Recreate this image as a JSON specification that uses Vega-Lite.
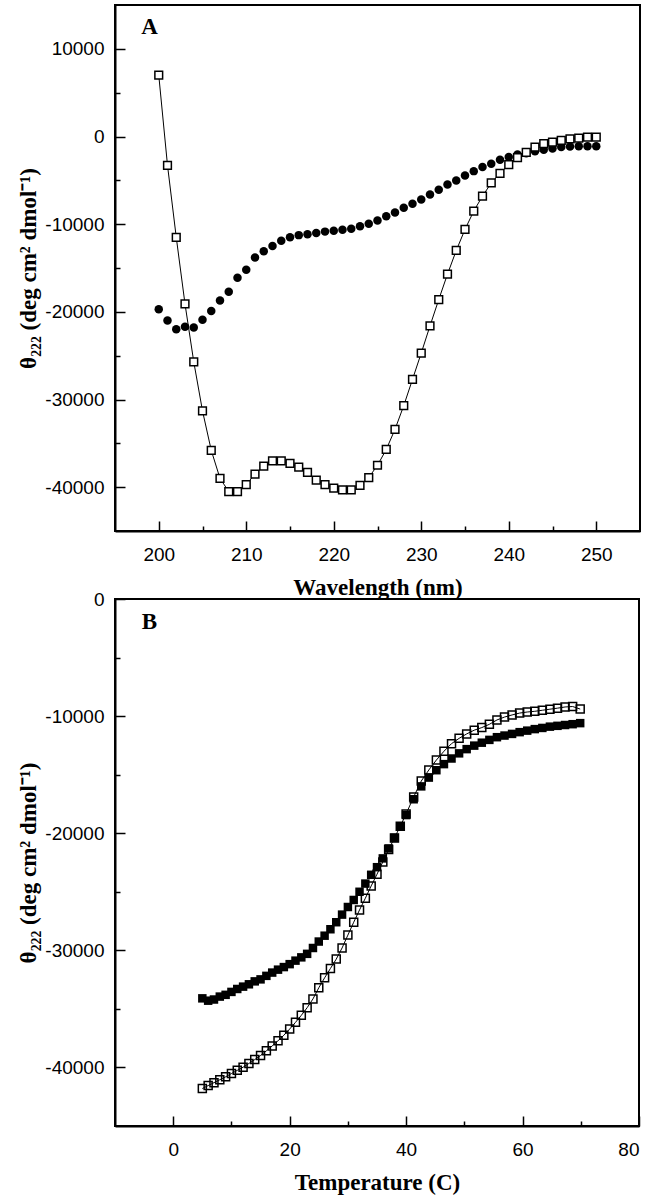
{
  "$schema": "https://vega.github.io/schema/vega-lite/v6.json",
  "background": "white",
  "padding": {"left": 16, "top": 4, "right": 8, "bottom": 3},
  "bounds": "flush",
  "spacing": 68,
  "config": {
    "view": {"stroke": "black", "strokeWidth": 2},
    "axis": {
      "grid": false,
      "domainColor": "black",
      "domainWidth": 2,
      "tickColor": "black",
      "tickWidth": 1.5,
      "labelFont": "Liberation Sans",
      "labelFontSize": 19,
      "labelColor": "black",
      "titleFont": "Liberation Serif",
      "titleFontWeight": "bold",
      "titleFontSize": 23,
      "titleColor": "black"
    },
    "axisX": {"labelPadding": 24, "titlePadding": 12},
    "axisY": {"labelPadding": 21, "titlePadding": 4}
  },
  "datasets": {
    "a_open": [
      {"wl": 200, "theta": 7000}, {"wl": 201, "theta": -3300}, {"wl": 202, "theta": -11500}, {"wl": 203, "theta": -19100},
      {"wl": 204, "theta": -25700}, {"wl": 205, "theta": -31300}, {"wl": 206, "theta": -35800}, {"wl": 207, "theta": -39000},
      {"wl": 208, "theta": -40500}, {"wl": 209, "theta": -40500}, {"wl": 210, "theta": -39700}, {"wl": 211, "theta": -38500},
      {"wl": 212, "theta": -37600}, {"wl": 213, "theta": -37000}, {"wl": 214, "theta": -37000}, {"wl": 215, "theta": -37300},
      {"wl": 216, "theta": -37700}, {"wl": 217, "theta": -38300}, {"wl": 218, "theta": -39200}, {"wl": 219, "theta": -39700},
      {"wl": 220, "theta": -40100}, {"wl": 221, "theta": -40300}, {"wl": 222, "theta": -40300}, {"wl": 223, "theta": -39800},
      {"wl": 224, "theta": -38900}, {"wl": 225, "theta": -37500}, {"wl": 226, "theta": -35700}, {"wl": 227, "theta": -33400},
      {"wl": 228, "theta": -30700}, {"wl": 229, "theta": -27700}, {"wl": 230, "theta": -24700}, {"wl": 231, "theta": -21600},
      {"wl": 232, "theta": -18600}, {"wl": 233, "theta": -15700}, {"wl": 234, "theta": -13000}, {"wl": 235, "theta": -10600},
      {"wl": 236, "theta": -8500}, {"wl": 237, "theta": -6800}, {"wl": 238, "theta": -5300}, {"wl": 239, "theta": -4200},
      {"wl": 240, "theta": -3200}, {"wl": 241, "theta": -2400}, {"wl": 242, "theta": -1800}, {"wl": 243, "theta": -1200},
      {"wl": 244, "theta": -800}, {"wl": 245, "theta": -650}, {"wl": 246, "theta": -450}, {"wl": 247, "theta": -260},
      {"wl": 248, "theta": -190}, {"wl": 249, "theta": -80}, {"wl": 250, "theta": -80}
    ],
    "a_filled": [
      {"wl": 200, "theta": -19700}, {"wl": 201, "theta": -21000}, {"wl": 202, "theta": -22000}, {"wl": 203, "theta": -21700},
      {"wl": 204, "theta": -21800}, {"wl": 205, "theta": -20900}, {"wl": 206, "theta": -19900}, {"wl": 207, "theta": -18700},
      {"wl": 208, "theta": -17700}, {"wl": 209, "theta": -16100}, {"wl": 210, "theta": -15200}, {"wl": 211, "theta": -13800},
      {"wl": 212, "theta": -13100}, {"wl": 213, "theta": -12500}, {"wl": 214, "theta": -11900}, {"wl": 215, "theta": -11500},
      {"wl": 216, "theta": -11250}, {"wl": 217, "theta": -11150}, {"wl": 218, "theta": -11000}, {"wl": 219, "theta": -10850},
      {"wl": 220, "theta": -10750}, {"wl": 221, "theta": -10650}, {"wl": 222, "theta": -10520}, {"wl": 223, "theta": -10250},
      {"wl": 224, "theta": -9950}, {"wl": 225, "theta": -9570}, {"wl": 226, "theta": -9110}, {"wl": 227, "theta": -8660},
      {"wl": 228, "theta": -8120}, {"wl": 229, "theta": -7670}, {"wl": 230, "theta": -7180}, {"wl": 231, "theta": -6610},
      {"wl": 232, "theta": -6070}, {"wl": 233, "theta": -5470}, {"wl": 234, "theta": -5010}, {"wl": 235, "theta": -4440},
      {"wl": 236, "theta": -3950}, {"wl": 237, "theta": -3490}, {"wl": 238, "theta": -3110}, {"wl": 239, "theta": -2660},
      {"wl": 240, "theta": -2350}, {"wl": 241, "theta": -2050}, {"wl": 242, "theta": -1900}, {"wl": 243, "theta": -1670},
      {"wl": 244, "theta": -1520}, {"wl": 245, "theta": -1370}, {"wl": 246, "theta": -1210}, {"wl": 247, "theta": -1140},
      {"wl": 248, "theta": -1100}, {"wl": 249, "theta": -1100}, {"wl": 250, "theta": -1100}
    ],
    "b_open": [
      {"t": 5, "theta": -41800}, {"t": 6, "theta": -41550}, {"t": 7, "theta": -41300}, {"t": 8, "theta": -41050},
      {"t": 9, "theta": -40800}, {"t": 10, "theta": -40520}, {"t": 11, "theta": -40250}, {"t": 12, "theta": -39980},
      {"t": 13, "theta": -39660}, {"t": 14, "theta": -39330}, {"t": 15, "theta": -38980}, {"t": 16, "theta": -38580},
      {"t": 17, "theta": -38160}, {"t": 18, "theta": -37720}, {"t": 19, "theta": -37250}, {"t": 20, "theta": -36720},
      {"t": 21, "theta": -36150}, {"t": 22, "theta": -35550}, {"t": 23, "theta": -34900}, {"t": 24, "theta": -34150},
      {"t": 25, "theta": -33200}, {"t": 26, "theta": -32350}, {"t": 27, "theta": -31550}, {"t": 28, "theta": -30750},
      {"t": 29, "theta": -29800}, {"t": 30, "theta": -28700}, {"t": 31, "theta": -27600}, {"t": 32, "theta": -26550},
      {"t": 33, "theta": -25550}, {"t": 34, "theta": -24500}, {"t": 35, "theta": -23500}, {"t": 36, "theta": -22450},
      {"t": 37, "theta": -21400}, {"t": 38, "theta": -20400}, {"t": 39, "theta": -19400}, {"t": 40, "theta": -18350},
      {"t": 41.3, "theta": -16900}, {"t": 42.6, "theta": -15550}, {"t": 43.9, "theta": -14600}, {"t": 45.2, "theta": -13750},
      {"t": 46.5, "theta": -13000}, {"t": 47.8, "theta": -12350}, {"t": 49.1, "theta": -11900}, {"t": 50.4, "theta": -11520},
      {"t": 51.7, "theta": -11200}, {"t": 53, "theta": -10980}, {"t": 54.3, "theta": -10700}, {"t": 55.6, "theta": -10330},
      {"t": 56.9, "theta": -10080}, {"t": 58.2, "theta": -9900}, {"t": 59.5, "theta": -9740}, {"t": 60.8, "theta": -9650},
      {"t": 62.1, "theta": -9590}, {"t": 63.4, "theta": -9500}, {"t": 64.7, "theta": -9410}, {"t": 66, "theta": -9320},
      {"t": 67.3, "theta": -9220}, {"t": 68.6, "theta": -9180}, {"t": 69.9, "theta": -9400}
    ],
    "b_filled": [
      {"t": 5, "theta": -34100}, {"t": 6, "theta": -34300}, {"t": 7, "theta": -34200}, {"t": 8, "theta": -33950},
      {"t": 9, "theta": -33800}, {"t": 10, "theta": -33550}, {"t": 11, "theta": -33300}, {"t": 12, "theta": -33100},
      {"t": 13, "theta": -32900}, {"t": 14, "theta": -32650}, {"t": 15, "theta": -32480}, {"t": 16, "theta": -32180},
      {"t": 17, "theta": -31900}, {"t": 18, "theta": -31650}, {"t": 19, "theta": -31430}, {"t": 20, "theta": -31180},
      {"t": 21, "theta": -30880}, {"t": 22, "theta": -30600}, {"t": 23, "theta": -30300}, {"t": 24, "theta": -29800},
      {"t": 25, "theta": -29250}, {"t": 26, "theta": -28750}, {"t": 27, "theta": -28200}, {"t": 28, "theta": -27600},
      {"t": 29, "theta": -26950}, {"t": 30, "theta": -26300}, {"t": 31, "theta": -25700}, {"t": 32, "theta": -25000},
      {"t": 33, "theta": -24300}, {"t": 34, "theta": -23550}, {"t": 35, "theta": -22900}, {"t": 36, "theta": -22150},
      {"t": 37, "theta": -21300}, {"t": 38, "theta": -20400}, {"t": 39, "theta": -19450}, {"t": 40, "theta": -18450},
      {"t": 41.3, "theta": -17100}, {"t": 42.6, "theta": -16000}, {"t": 43.9, "theta": -15250}, {"t": 45.2, "theta": -14620},
      {"t": 46.5, "theta": -14100}, {"t": 47.8, "theta": -13620}, {"t": 49.1, "theta": -13180}, {"t": 50.4, "theta": -12820},
      {"t": 51.7, "theta": -12520}, {"t": 53, "theta": -12270}, {"t": 54.3, "theta": -12030}, {"t": 55.6, "theta": -11800},
      {"t": 56.9, "theta": -11660}, {"t": 58.2, "theta": -11520}, {"t": 59.5, "theta": -11370}, {"t": 60.8, "theta": -11240},
      {"t": 62.1, "theta": -11110}, {"t": 63.4, "theta": -11010}, {"t": 64.7, "theta": -10900}, {"t": 66, "theta": -10830},
      {"t": 67.3, "theta": -10760}, {"t": 68.6, "theta": -10690}, {"t": 69.9, "theta": -10600}
    ],
    "a_label": [{"wl": 198, "theta": 11700, "label": "A"}],
    "b_label": [{"t": -5.4, "theta": -2600, "label": "B"}]
  },
  "vconcat": [
    {
      "width": 525,
      "height": 526,
      "encoding": {
        "x": {
          "field": "wl", "type": "quantitative",
          "scale": {"domain": [195, 255], "nice": false, "zero": false},
          "axis": {
            "title": "Wavelength (nm)",
            "values": [200, 205, 210, 215, 220, 225, 230, 235, 240, 245, 250],
            "labelExpr": "datum.value % 10 === 0 ? '' + datum.value : ''",
            "tickSize": {"condition": {"test": "datum.value % 10 === 0", "value": -10}, "value": -5}
          }
        },
        "y": {
          "field": "theta", "type": "quantitative",
          "scale": {"domain": [-45000, 15000], "nice": false, "zero": false},
          "axis": {
            "title": "θ₂₂₂ (deg cm² dmol⁻¹)",
            "values": [-40000, -35000, -30000, -25000, -20000, -15000, -10000, -5000, 0, 5000, 10000],
            "labelExpr": "datum.value % 10000 === 0 ? '' + datum.value : ''",
            "tickSize": {"condition": {"test": "datum.value % 10000 === 0", "value": -10}, "value": -5}
          }
        }
      },
      "layer": [
        {
          "data": {"name": "a_filled"},
          "mark": {"type": "circle", "color": "black", "opacity": 1, "size": 72}
        },
        {
          "data": {"name": "a_open"},
          "mark": {"type": "line", "color": "black", "strokeWidth": 1}
        },
        {
          "data": {"name": "a_open"},
          "mark": {"type": "point", "shape": "square", "filled": true, "fill": "white", "stroke": "black", "strokeWidth": 1.5, "opacity": 1, "size": 60}
        },
        {
          "data": {"name": "a_label"},
          "mark": {"type": "text", "font": "Liberation Serif", "fontWeight": "bold", "fontSize": 23, "align": "left", "baseline": "alphabetic", "color": "black"},
          "encoding": {"text": {"field": "label"}}
        }
      ]
    },
    {
      "width": 524,
      "height": 527,
      "encoding": {
        "x": {
          "field": "t", "type": "quantitative",
          "scale": {"domain": [-10, 80], "nice": false, "zero": false},
          "axis": {
            "title": "Temperature (C)",
            "values": [0, 10, 20, 30, 40, 50, 60, 70, 80],
            "labelExpr": "datum.value % 20 === 0 ? '' + datum.value : ''",
            "tickSize": {"condition": {"test": "datum.value % 20 === 0", "value": -10}, "value": -5}
          }
        },
        "y": {
          "field": "theta", "type": "quantitative",
          "scale": {"domain": [-45000, 0], "nice": false, "zero": false},
          "axis": {
            "title": "θ₂₂₂ (deg cm² dmol⁻¹)",
            "values": [-40000, -35000, -30000, -25000, -20000, -15000, -10000, -5000, 0],
            "labelExpr": "datum.value % 10000 === 0 ? '' + datum.value : ''",
            "tickSize": {"condition": {"test": "datum.value % 10000 === 0", "value": -10}, "value": -5}
          }
        }
      },
      "layer": [
        {
          "data": {"name": "b_filled"},
          "mark": {"type": "point", "shape": "square", "filled": true, "color": "black", "opacity": 1, "size": 72}
        },
        {
          "data": {"name": "b_open"},
          "mark": {"type": "line", "color": "black", "strokeWidth": 1}
        },
        {
          "data": {"name": "b_open"},
          "mark": {"type": "point", "shape": "square", "filled": false, "color": "black", "strokeWidth": 1.5, "opacity": 1, "size": 64}
        },
        {
          "data": {"name": "b_label"},
          "mark": {"type": "text", "font": "Liberation Serif", "fontWeight": "bold", "fontSize": 23, "align": "left", "baseline": "alphabetic", "color": "black"},
          "encoding": {"text": {"field": "label"}}
        }
      ]
    }
  ]
}
